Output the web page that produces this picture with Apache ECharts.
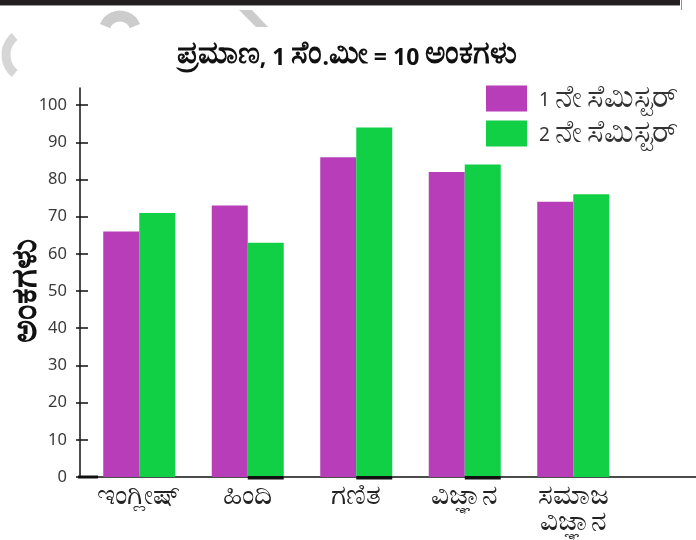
<!DOCTYPE html>
<html>
<head>
<meta charset="utf-8">
<script src="https://cdn.jsdelivr.net/npm/echarts@6/dist/echarts.min.js"></script>
<style>
  html, body { margin: 0; padding: 0; background: #fff; }
  #chart { width: 696px; height: 540px; }
</style>
</head>
<body>
<div id="chart"></div>
<script>
// Subjects and marks for the two semesters
const subjects = ['ಇಂಗ್ಲೀಷ್', 'ಹಿಂದಿ', 'ಗಣಿತ', 'ವಿಜ್ಞಾನ', 'ಸಮಾಜ\nವಿಜ್ಞಾನ'];
const semester1 = [66, 73, 86, 82, 74];
const semester2 = [71, 63, 94, 84, 76];
const seriesNames = ['1 ನೇ ಸೆಮಿಸ್ಟರ್', '2 ನೇ ಸೆಮಿಸ್ಟರ್'];
const yTicks = [0, 10, 20, 30, 40, 50, 60, 70, 80, 90, 100];
const titleText = 'ಪ್ರಮಾಣ, 1 ಸೆಂ.ಮೀ = 10 ಅಂಕಗಳು';
const yAxisTitle = 'ಅಂಕಗಳು';
// subjects whose second-semester bar has a heavy base line
const underlined = [1, 2, 3];

const PURPLE = '#b73db9';
const GREEN = '#11d046';
const FONT = '"Noto Sans", "DejaVu Sans", sans-serif';

// Kannada glyphs come out small next to Latin digits, so the two
// scripts get their own rich-text styles.
function mixScript(str) {
  return str.replace(/([\u0C80-\u0CFF]+)|([^\u0C80-\u0CFF]+)/g, function (m, kn, other) {
    return kn ? '{k|' + kn + '}' : '{d|' + other + '}';
  });
}

// an empty trailing slot lets the baseline run on to the right edge
const categories = subjects.concat(['']);

const chart = echarts.init(document.getElementById('chart'), null, { renderer: 'canvas' });

const yCommon = {
  type: 'value',
  min: 0,
  max: 104.6,
  interval: 10,
  splitLine: { show: false }
};

chart.setOption({
  backgroundColor: '#ffffff',
  animation: false,
  title: {
    text: mixScript(titleText),
    left: 342,
    top: 33,
    textAlign: 'center',
    textStyle: {
      rich: {
        k: { fontFamily: FONT, fontSize: 31, fontWeight: 'bold', color: '#111' },
        d: { fontFamily: FONT, fontSize: 23, fontWeight: 'bold', color: '#111', padding: [9, 0, 0, 0] }
      }
    }
  },
  legend: {
    data: seriesNames,
    orient: 'vertical',
    left: 481,
    top: 78,
    itemWidth: 41,
    itemHeight: 26,
    itemGap: 4,
    icon: 'rect',
    formatter: function (name) { return mixScript(name); },
    textStyle: {
      padding: [0, 0, 0, 7],
      rich: {
        k: { fontFamily: FONT, fontSize: 31, color: '#333' },
        d: { fontFamily: FONT, fontSize: 19, color: '#333', padding: [5, 0, 0, 0] }
      }
    }
  },
  grid: { left: 85, right: -40, top: 88, bottom: 63, outerBoundsMode: 'none', containLabel: false },
  xAxis: {
    type: 'category',
    data: categories,
    boundaryGap: true,
    axisLine: { lineStyle: { color: '#111', width: 1.5 } },
    axisTick: { show: false },
    axisLabel: {
      fontFamily: FONT, fontSize: 28, color: '#222', margin: 6, lineHeight: 26,
      interval: 0
    }
  },
  yAxis: [
    Object.assign({}, yCommon, {
      position: 'left',
      offset: 5,
      name: yAxisTitle,
      nameLocation: 'middle',
      nameRotate: 90,
      nameGap: 36,
      nameMoveOverlap: false,
      nameTextStyle: { fontFamily: FONT, fontSize: 35, fontWeight: 'bold', color: '#111', padding: [0, 16, 0, 0] },
      axisLine: { show: true, lineStyle: { color: '#111', width: 1.5 } },
      axisTick: { show: true, length: 4, lineStyle: { color: '#111', width: 1.5 }, customValues: yTicks },
      axisLabel: { fontFamily: FONT, fontSize: 16.5, color: '#3a3a3a', margin: 13, customValues: yTicks }
    }),
    Object.assign({}, yCommon, {
      position: 'left',
      offset: 5,
      axisLine: { show: false },
      axisTick: { show: true, inside: true, length: 8, lineStyle: { color: '#111', width: 1.5 }, customValues: yTicks },
      axisLabel: { show: false }
    })
  ],
  series: [
    {
      name: seriesNames[0],
      type: 'bar',
      data: semester1,
      barWidth: 36,
      barGap: '0%',
      itemStyle: { color: PURPLE }
    },
    {
      name: seriesNames[1],
      type: 'bar',
      data: semester2,
      barWidth: 36,
      barGap: '0%',
      itemStyle: { color: GREEN }
    },
    {
      // heavy base line drawn under the second-semester bars
      type: 'custom',
      data: underlined.map(i => [i, 0]),
      encode: { x: 0, y: 1 },
      z: 5,
      renderItem: function (params, api) {
        const p = api.coord([api.value(0), 0]);
        return {
          type: 'rect',
          shape: { x: p[0], y: p[1] - 1, width: 36, height: 3.5 },
          style: { fill: '#111' }
        };
      }
    }
  ],
  graphic: [
    // dark strip along the top edge
    { type: 'rect', left: 0, top: 0, shape: { width: 680, height: 5 }, style: { fill: '#231f20' }, silent: true },
    { type: 'rect', left: 0, top: 5, shape: { width: 680, height: 1 }, style: { fill: '#9a9a9a' }, silent: true },
    { type: 'rect', left: 681, top: 0, shape: { width: 1, height: 10 }, style: { fill: '#8a8ac8' }, silent: true },
    // faint grey marks near the top-left corner
    { type: 'arc', shape: { cx: 120, cy: 32, r: 16, startAngle: Math.PI * 1.12, endAngle: Math.PI * 1.88, clockwise: true },
      style: { stroke: '#cccccc', lineWidth: 11, fill: null }, silent: true },
    { type: 'polygon', shape: { points: [[239, 10], [252, 10], [268, 27], [256, 27]] }, style: { fill: '#cccccc' }, silent: true },
    { type: 'arc', shape: { cx: 30, cy: 55, r: 24, startAngle: Math.PI * 0.72, endAngle: Math.PI * 1.28, clockwise: true },
      style: { stroke: '#d6d6d6', lineWidth: 9, fill: null }, silent: true },
    // heavy start of the baseline next to the vertical axis
    { type: 'rect', left: 78, top: 475.5, shape: { width: 20, height: 3 }, style: { fill: '#111' }, silent: true }
  ]
});
</script>
</body>
</html>
